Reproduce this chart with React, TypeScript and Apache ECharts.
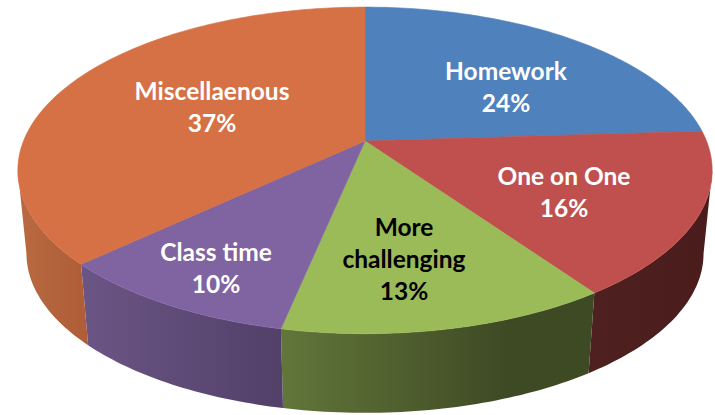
import React, { useEffect, useRef } from "react";
import * as echarts from "echarts";

const categories = ["Homework", "One on One", "More\nchallenging", "Class time", "Miscellaenous"];
const shares = [24, 16.3, 12.95, 9.75, 37];
const topColors = ["#4f81bd", "#c0504d", "#9bbb59", "#8064a2", "#d57144"];
const sideLeftColors = ["#2f4d71", "#4f2020", "#62763a", "#6b5585", "#b96a40"];
const sideRightColors = ["#2f4d71", "#4a1c1c", "#3e4a24", "#524068", "#ae5d37"];
const sideRampEnds = [1, 1, 0.72, 1, 1];
const labelColors = ["#ffffff", "#ffffff", "#000000", "#ffffff", "#ffffff"];
const labelCentres = [[506, 86], [564, 191], [404, 258], [216, 267], [212, 106]];

// Perspective of the pie disc
const K = 0.18;
const TOP = { cx: 365, cy: 141, a: 341.5, b: 158 };
const BOTTOM = { cx: 365, cy: 225, a: 333, b: 154 };
const VISIBLE_FROM = 100.4;
const VISIBLE_TO = 259.6;
const total = shares.reduce((s, v) => s + v, 0);

function project(disc: typeof TOP, deg: number): number[] {
  const t = (deg * Math.PI) / 180;
  const u = Math.sin(t);
  const v = Math.cos(t);
  const w = 1 + K * v;
  return [disc.cx + (disc.a * u) / w, disc.cy - (disc.b * v) / w];
}

function arc(disc: typeof TOP, from: number, to: number): number[][] {
  const n = Math.max(2, Math.ceil(Math.abs(to - from)));
  const pts: number[][] = [];
  for (let i = 0; i <= n; i++) pts.push(project(disc, from + ((to - from) * i) / n));
  return pts;
}

function startOf(i: number): number {
  let sum = 0;
  for (let j = 0; j < i; j++) sum += shares[j];
  return (sum / total) * 360;
}

export default function App() {
  const ref = useRef<HTMLDivElement>(null);
  useEffect(() => {
    document.body.style.margin = "0";
    document.body.style.background = "#ffffff";
    const chart = echarts.init(ref.current!, null, { renderer: "svg" });
    const data = shares.map((v, i) => ({ name: categories[i].replace("\n", " "), value: [v, i] }));
    chart.setOption({
      animation: false,
      backgroundColor: "#ffffff",
      series: [
        {
          type: "custom",
          coordinateSystem: "none",
          silent: true,
          z: 1,
          data,
          renderItem: (_p: any, api: any) => {
            const i = api.value(1);
            const from = Math.max(startOf(i), VISIBLE_FROM);
            const to = Math.min(startOf(i) + (api.value(0) / total) * 360, VISIBLE_TO);
            if (to <= from) return { type: "group", children: [] };
            const pts = arc(TOP, from, to).concat(arc(BOTTOM, to, from));
            return {
              type: "polygon",
              shape: { points: pts },
              style: {
                fill: new echarts.graphic.LinearGradient(0, 0, 1, 0, [
                  { offset: 0, color: sideLeftColors[i] },
                  { offset: sideRampEnds[i], color: sideRightColors[i] },
                  { offset: 1, color: sideRightColors[i] },
                ]),
              },
            };
          },
        },
        {
          type: "custom",
          coordinateSystem: "none",
          silent: true,
          z: 2,
          data,
          renderItem: (_p: any, api: any) => {
            const i = api.value(1);
            const from = startOf(i);
            const to = from + (api.value(0) / total) * 360;
            return {
              type: "polygon",
              shape: { points: [[TOP.cx, TOP.cy]].concat(arc(TOP, from, to)) },
              style: { fill: topColors[i], stroke: topColors[i], lineWidth: 0.6 },
            };
          },
        },
        {
          type: "custom",
          coordinateSystem: "none",
          silent: true,
          z: 3,
          data,
          renderItem: (_p: any, api: any) => {
            const i = api.value(1);
            return {
              type: "text",
              style: {
                x: labelCentres[i][0],
                y: labelCentres[i][1],
                text: `${categories[i]}\n${Math.round(api.value(0))}%`,
                fill: labelColors[i],
                font: "bold 24.5px Lato",
                lineHeight: 32,
                align: "center",
                verticalAlign: "middle",
              },
            };
          },
        },
      ],
    });
    return () => chart.dispose();
  }, []);
  return <div ref={ref} style={{ position: "absolute", left: 0, top: 0, width: 715, height: 415 }} />;
}
